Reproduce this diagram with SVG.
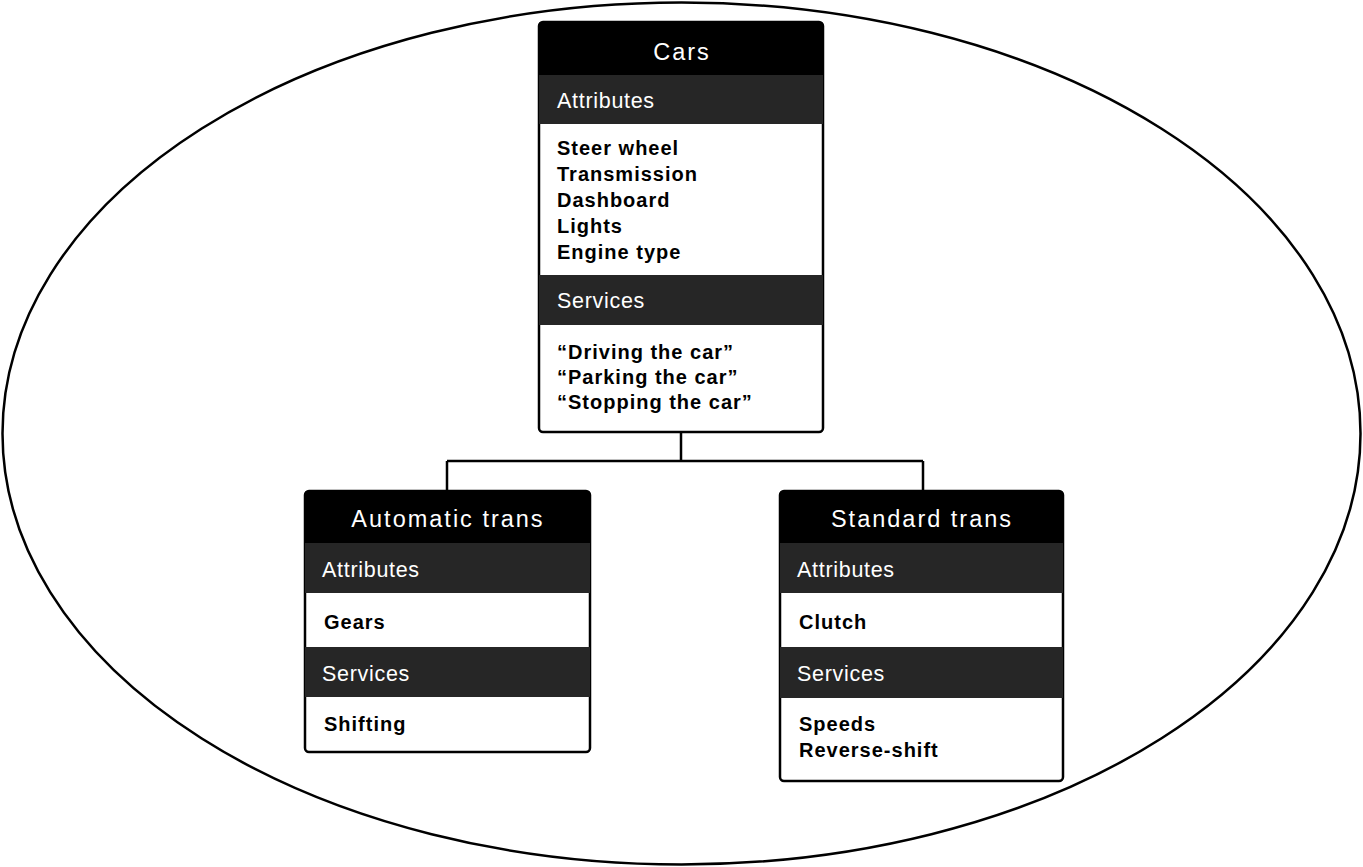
<svg xmlns="http://www.w3.org/2000/svg" width="1363" height="867" viewBox="0 0 1363 867">
<style>
.frame{fill:#fff;stroke:#000;stroke-width:2.5}
.hdr{fill:#000}
.band{fill:#262626}
.title{font-family:"Liberation Sans",Arial,sans-serif;font-size:23.5px;letter-spacing:2px;fill:#fff;text-anchor:middle}
.sec{font-family:"Liberation Sans",Arial,sans-serif;font-size:21.5px;letter-spacing:0.7px;fill:#fff}
.item{font-family:"Liberation Sans",Arial,sans-serif;font-size:20px;letter-spacing:1px;font-weight:bold;fill:#000}
.conn{fill:none;stroke:#000;stroke-width:2.5}
</style>
<rect width="1363" height="867" fill="#fff"/>
<ellipse cx="681.5" cy="433.5" rx="679" ry="431" fill="none" stroke="#000" stroke-width="2.5"/>
<g id="connectors">
<path class="conn" d="M681,432 V461 M447,461 H923 M447,461 V492 M923,461 V492"/>
</g>
<g id="cars">
<rect class="frame" x="539" y="22" width="284" height="410" rx="4"/>
<path class="hdr" d="M543,22 H819 Q823,22 823,26 V75 H539 V26 Q539,22 543,22 Z"/>
<rect class="band" x="539" y="75" width="284" height="49"/>
<rect class="band" x="539" y="275" width="284" height="50"/>
<text class="title" x="682" y="60">Cars</text>
<text class="sec" x="557" y="108">Attributes</text>
<text class="item" x="557" y="155">Steer wheel</text>
<text class="item" x="557" y="181">Transmission</text>
<text class="item" x="557" y="207">Dashboard</text>
<text class="item" x="557" y="233">Lights</text>
<text class="item" x="557" y="259">Engine type</text>
<text class="sec" x="557" y="308">Services</text>
<text class="item" x="557" y="359">“Driving the car”</text>
<text class="item" x="557" y="384">“Parking the car”</text>
<text class="item" x="557" y="409">“Stopping the car”</text>
</g>
<g id="automatic">
<rect class="frame" x="305" y="491" width="285" height="261" rx="4"/>
<path class="hdr" d="M309,491 H586 Q590,491 590,495 V543 H305 V495 Q305,491 309,491 Z"/>
<rect class="band" x="305" y="543" width="285" height="50"/>
<rect class="band" x="305" y="647" width="285" height="50"/>
<text class="title" x="448" y="527">Automatic trans</text>
<text class="sec" x="322" y="577">Attributes</text>
<text class="item" x="324" y="629">Gears</text>
<text class="sec" x="322" y="681">Services</text>
<text class="item" x="324" y="731">Shifting</text>
</g>
<g id="standard">
<rect class="frame" x="780" y="491" width="283" height="290" rx="4"/>
<path class="hdr" d="M784,491 H1059 Q1063,491 1063,495 V543 H780 V495 Q780,491 784,491 Z"/>
<rect class="band" x="780" y="543" width="283" height="50"/>
<rect class="band" x="780" y="647" width="283" height="51"/>
<text class="title" x="922" y="527">Standard trans</text>
<text class="sec" x="797" y="577">Attributes</text>
<text class="item" x="799" y="629">Clutch</text>
<text class="sec" x="797" y="681">Services</text>
<text class="item" x="799" y="731">Speeds</text>
<text class="item" x="799" y="757">Reverse-shift</text>
</g>
</svg>
